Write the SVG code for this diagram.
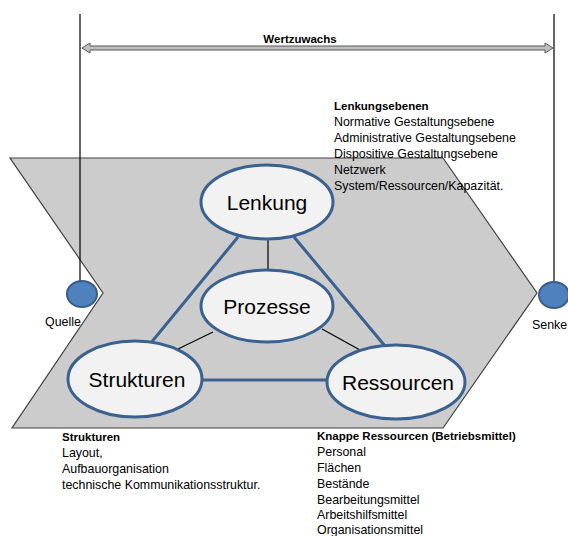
<svg xmlns="http://www.w3.org/2000/svg" width="568" height="536" viewBox="0 0 568 536">
<style>
.t{font-family:"Liberation Sans",Arial,sans-serif;font-size:12.4px;fill:#000}
.b{font-weight:bold;font-size:11.5px}
.big{font-family:"Liberation Sans",Arial,sans-serif;font-size:21px;fill:#000;text-anchor:middle}
.node{fill:#f2f2f2;stroke:#3a6190;stroke-width:3}
.blue{stroke:#3a6190;stroke-width:3;fill:none}
.thin{stroke:#000;stroke-width:1.2;fill:none}
.dot{fill:#4f81bd;stroke:#385d8a;stroke-width:2}
</style>
<rect width="568" height="536" fill="#fff"/>
<g id="chevron">
<polygon points="10,158 443,158 537,293 443,428 12,428 103,293" fill="#cccccc" stroke="#404040" stroke-width="1.2"/>
</g>
<g id="wertzuwachs">
<line x1="80" y1="14" x2="80" y2="281" stroke="#000" stroke-width="1.2"/>
<line x1="554" y1="14" x2="554" y2="281" stroke="#000" stroke-width="1.2"/>
<polygon points="82,48 90,43 90,46 545,46 545,43 553,48 545,53 545,50 90,50 90,53" fill="#bfbfbf" stroke="#595959" stroke-width="1"/>
<text class="t b" x="300" y="43" text-anchor="middle">Wertzuwachs</text>
</g>
<g id="connectors">
<line class="blue" x1="238" y1="237" x2="150" y2="344"/>
<line class="blue" x1="294" y1="237" x2="385" y2="346"/>
<line class="blue" x1="201" y1="380" x2="328" y2="380"/>
<line class="thin" x1="268" y1="240" x2="268" y2="270"/>
<line class="thin" x1="213" y1="332" x2="178" y2="349"/>
<line class="thin" x1="322" y1="329" x2="360" y2="350"/>
</g>
<g id="quelle">
<ellipse class="dot" cx="82" cy="294" rx="15" ry="13"/>
<text class="t" x="45" y="326">Quelle</text>
</g>
<g id="senke">
<ellipse class="dot" cx="554" cy="295" rx="15" ry="13"/>
<text class="t" x="532" y="329">Senke</text>
</g>
<g id="lenkung">
<ellipse class="node" cx="267" cy="202" rx="66" ry="37"/>
<text class="big" x="267" y="210">Lenkung</text>
</g>
<g id="prozesse">
<ellipse class="node" cx="267" cy="306" rx="66" ry="36"/>
<text class="big" x="267" y="314">Prozesse</text>
</g>
<g id="strukturen">
<ellipse class="node" cx="135" cy="379" rx="67" ry="38"/>
<text class="big" x="137" y="387">Strukturen</text>
</g>
<g id="ressourcen">
<ellipse class="node" cx="396" cy="382" rx="69" ry="37"/>
<text class="big" x="398" y="390">Ressourcen</text>
</g>
<g id="lenkungsebenen">
<text class="t b" x="334" y="110">Lenkungsebenen</text>
<text class="t" x="334" y="126">Normative Gestaltungsebene</text>
<text class="t" x="334" y="142">Administrative Gestaltungsebene</text>
<text class="t" x="334" y="158">Dispositive Gestaltungsebene</text>
<text class="t" x="334" y="174">Netzwerk</text>
<text class="t" x="334" y="190">System/Ressourcen/Kapazität.</text>
</g>
<g id="strukturen-text">
<text class="t b" x="62" y="441">Strukturen</text>
<text class="t" x="62" y="457">Layout,</text>
<text class="t" x="62" y="473">Aufbauorganisation</text>
<text class="t" x="62" y="489">technische Kommunikationsstruktur.</text>
</g>
<g id="ressourcen-text">
<text class="t b" x="317" y="440">Knappe Ressourcen (Betriebsmittel)</text>
<text class="t" x="317" y="456">Personal</text>
<text class="t" x="317" y="472">Flächen</text>
<text class="t" x="317" y="488">Bestände</text>
<text class="t" x="317" y="503.5">Bearbeitungsmittel</text>
<text class="t" x="317" y="519">Arbeitshilfsmittel</text>
<text class="t" x="317" y="534">Organisationsmittel</text>
</g>
</svg>
